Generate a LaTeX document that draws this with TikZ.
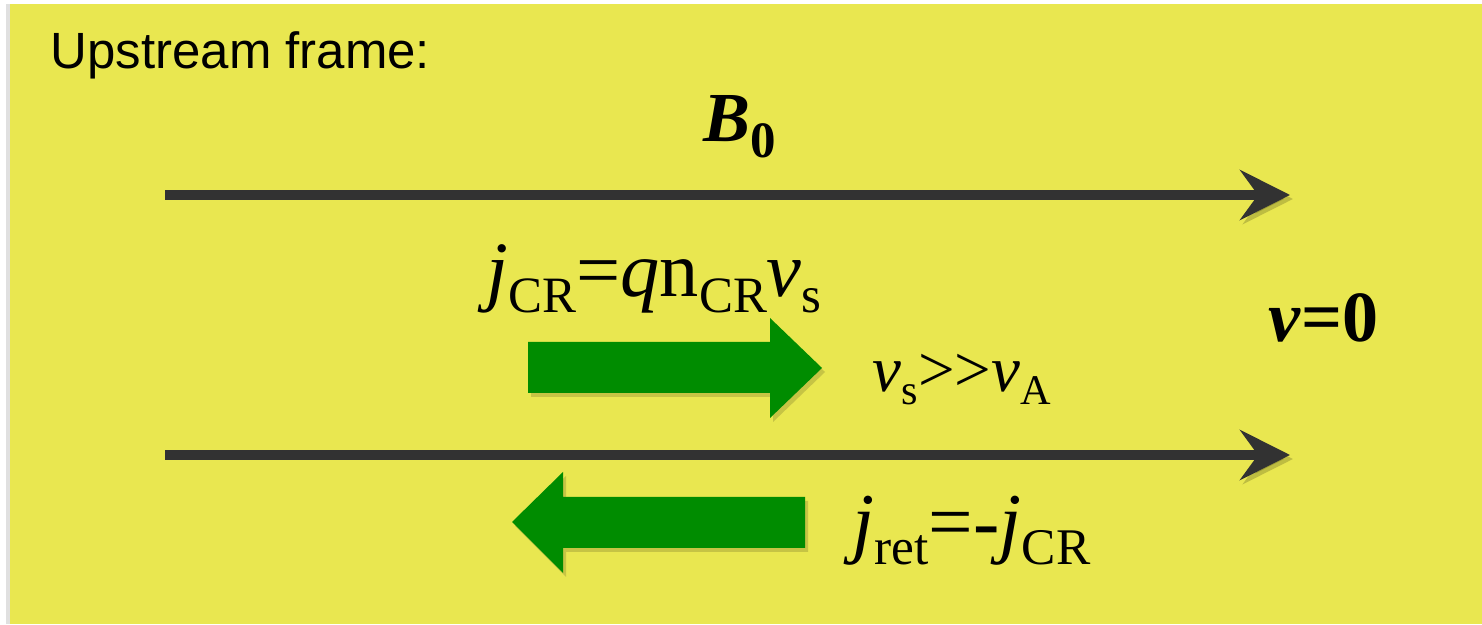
\documentclass[tikz,border=0pt]{standalone}
\usepackage{fontspec}
\setmainfont{Liberation Serif}
\newfontfamily\framefont{Liberation Sans}
\usetikzlibrary{arrows.meta}
\definecolor{frameyellow}{RGB}{233,231,80}
\definecolor{fieldgray}{RGB}{50,50,50}
\definecolor{crgreen}{RGB}{0,140,0}
\newcommand{\lowsub}[1]{\raisebox{-0.2em}{\scalebox{0.65}{#1}}}

\begin{document}
\begin{tikzpicture}[
  fieldline/.style={draw=fieldgray,line width=3.1pt,
    -{Stealth[length=5mm,width=5mm,inset=1.8mm]},
    preaction={draw=black,opacity=0.18,
      transform canvas={shift={(0.03,-0.04)}}}},
  flowarrow/.style={fill=crgreen,
    preaction={fill=black,opacity=0.15,
      transform canvas={shift={(0.03,-0.04)}}}},
  every node/.style={inner sep=0pt,anchor=base west}]
  \useasboundingbox (0,0) rectangle (14.82,6.24);
  \fill[white] (0,0) rectangle (14.82,6.24);
  \fill[black!12] (0.06,0) rectangle (0.10,6.20);
  \fill[frameyellow] (0.10,0) rectangle (14.82,6.20);
  \node (title) at (0.50,5.55) {\framefont\fontsize{14.5}{17}\selectfont Upstream frame:};
  % magnetic field lines
  \coordinate (upperL) at (1.65,4.29);
  \coordinate (upperR) at (12.90,4.29);
  \coordinate (lowerL) at (1.65,1.69);
  \coordinate (lowerR) at (12.90,1.69);
  \draw[fieldline] (upperL)--(upperR);
  \draw[fieldline] (lowerL)--(lowerR);
  \node (B0) at (7.03,4.82)
    {\fontsize{20}{24}\selectfont\bfseries\itshape B\raisebox{-0.22em}{\upshape\fontsize{14.5}{17}\selectfont 0}};
  % CR current and return current
  \fill[flowarrow] (5.28,2.82)--(7.70,2.82)--(7.70,3.06)--(8.22,2.56)
    --(7.70,2.06)--(7.70,2.31)--(5.28,2.31)--cycle;
  \fill[flowarrow] (8.05,1.27)--(5.63,1.27)--(5.63,1.52)--(5.12,1.02)
    --(5.63,0.51)--(5.63,0.76)--(8.05,0.76)--cycle;
  \node (jcr) at (4.86,3.27)
    {\fontsize{22.3}{26}\selectfont\textit{j}\lowsub{CR}=\textit{q}n\lowsub{CR}\textit{v}\lowsub{s}};
  \node (vs) at (8.72,2.32)
    {\fontsize{18.5}{22}\selectfont\textit{v}\lowsub{s}>\kern0pt>\textit{v}\lowsub{A}};
  \node (jret) at (8.52,0.75)
    {\fontsize{22.5}{26}\selectfont\textit{j}\lowsub{ret}=-\textit{j}\lowsub{CR}};
  \node (v0) at (12.68,2.82)
    {\fontsize{20.5}{24}\selectfont\bfseries\textit{v}=0};
\end{tikzpicture}
\end{document}
